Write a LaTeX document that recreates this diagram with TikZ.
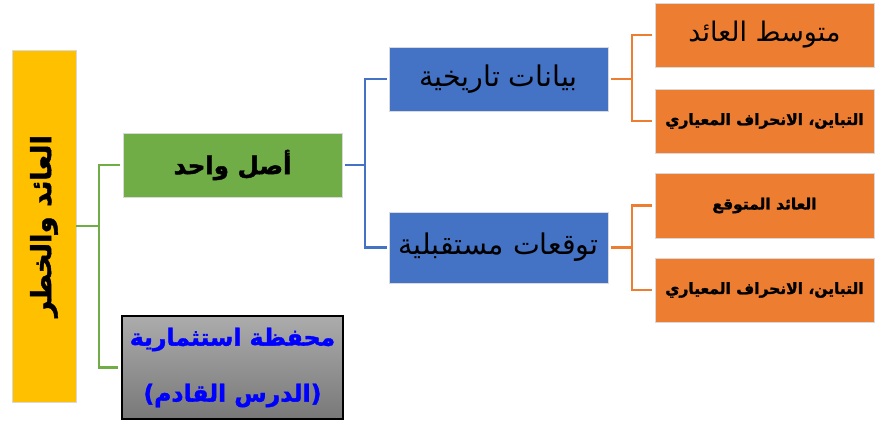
\documentclass[tikz,border=0pt]{standalone}
\usepackage{fontspec}
\newfontfamily\arabicfont[Script=Arabic]{DejaVu Sans}
\newfontfamily\arabicheavy[Script=Arabic, UprightFont=*-Bold, UprightFeatures={FakeBold=1.6}]{DejaVu Sans}
\TeXXeTstate=1
\usetikzlibrary{positioning, calc}
\definecolor{rootyellow}{RGB}{255,192,0}
\definecolor{assetgreen}{RGB}{112,173,71}
\definecolor{datablue}{RGB}{68,114,196}
\definecolor{statorange}{RGB}{237,125,49}
\definecolor{graytop}{RGB}{172,172,172}
\definecolor{graybot}{RGB}{120,120,120}
\tikzset{%
	box/.style={draw=white!85!black, line width=0.6pt, rectangle, inner sep=0mm,%
		font=\arabicfont, text=black},
	rootbox/.style={box, fill=rootyellow, minimum width=64pt, minimum height=352pt},
	asset/.style={box, fill=assetgreen, minimum width=219pt, minimum height=64pt,%
		font=\arabicheavy\fontsize{24.5}{28}\selectfont},
	nextbox/.style={draw=black, line width=1.2pt, rectangle, inner sep=0mm,%
		top color=graytop, bottom color=graybot, minimum width=221pt, minimum height=103pt,%
		align=center, text=blue, font=\arabicheavy\fontsize{23.5}{56}\selectfont},
	source/.style={box, fill=datablue, minimum width=219pt, minimum height=64pt,%
		font=\arabicfont\fontsize{28.5}{32}\selectfont},
	stat/.style={box, fill=statorange, minimum width=219pt, minimum height=64pt,%
		font=\arabicheavy\fontsize{15.5}{19}\selectfont},
	greenline/.style={draw=assetgreen, line width=2.2pt},
	blueline/.style={draw=datablue, line width=2.2pt},
	orangeline/.style={draw=statorange, line width=2.2pt}
}
\begin{document}
\begin{tikzpicture}[x=1pt, y=-1pt]
	\useasboundingbox (0,0) rectangle (892,423);

	\node[rootbox]                  (root) at (44,226)    {};
	\node[rotate=90, font=\arabicheavy\fontsize{27.5}{32}\selectfont]
		(rootlabel) at (root.center) {\beginR العائد والخطر\endR};

	\node[asset]                    (one)  at (232.5,165)  {\beginR أصل واحد\endR};
	\node[nextbox]                  (port) at (232.5,367.5)
		{\beginR محفظة استثمارية\endR\\\beginR (الدرس القادم)\endR};

	\node[source]                   (hist) at (498.5,79)   {\beginR بيانات تاريخية\endR};
	\node[source, minimum height=71pt] (fut) at (498.5,247.5) {\beginR توقعات مستقبلية\endR};

	\node[stat, font=\arabicfont\fontsize{27}{31}\selectfont]
		(mean) at (764.5,35)  {\beginR متوسط العائد\endR};
	\node[stat]                     (var1) at (764.5,121)  {\beginR التباين، الانحراف المعياري\endR};
	\node[stat, minimum height=65pt] (expr) at (764.5,205.5) {\beginR العائد المتوقع\endR};
	\node[stat]                     (var2) at (764.5,290)  {\beginR التباين، الانحراف المعياري\endR};

	\draw[greenline]  (root.east) -- ++(23,0) coordinate (gj);
	\draw[greenline]  ([xshift=-3pt]one.west) -| (gj) |- ([xshift=-3pt]port.west);

	\draw[blueline]   ([xshift=3pt]one.east) -- ++(20,0) coordinate (bj);
	\draw[blueline]   ([xshift=-2pt]hist.west) -| (bj) |- ([xshift=-2pt]fut.west);

	\draw[orangeline] ([xshift=3pt]hist.east) -- ++(21,0) coordinate (oj1);
	\draw[orangeline] ([xshift=-3pt]mean.west) -| (oj1) |- ([xshift=-3pt]var1.west);

	\draw[orangeline] ([xshift=3pt]fut.east) -- ++(21,0) coordinate (oj2);
	\draw[orangeline] ([xshift=-3pt]expr.west) -| (oj2) |- ([xshift=-3pt]var2.west);
\end{tikzpicture}
\end{document}
